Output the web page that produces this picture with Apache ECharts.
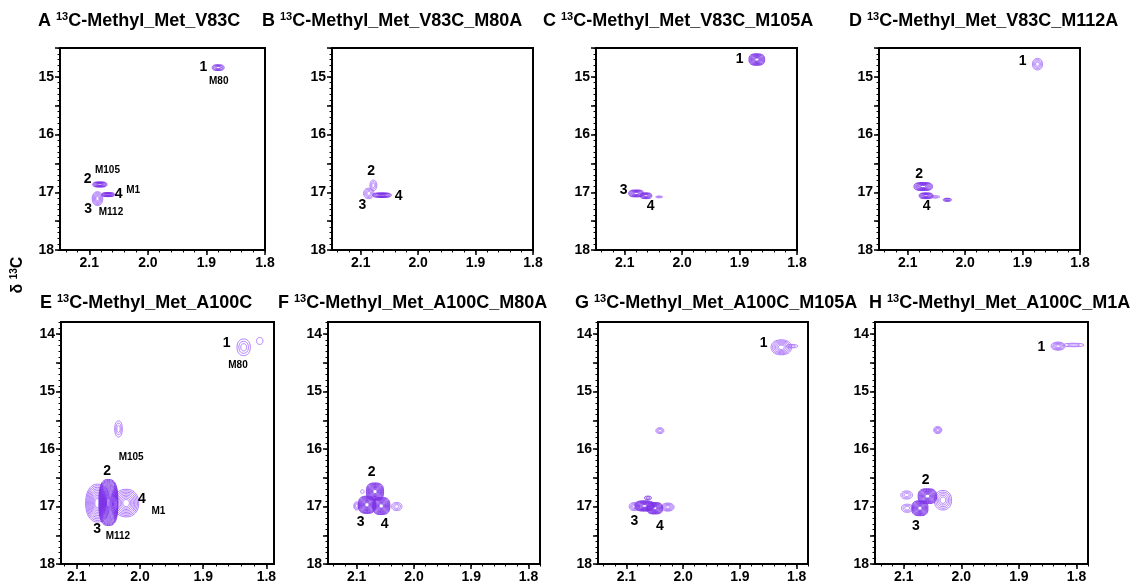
<!DOCTYPE html>
<html>
<head>
<meta charset="utf-8">
<script src="https://cdn.jsdelivr.net/npm/echarts@6/dist/echarts.min.js"></script>
<style>
html, body { margin: 0; padding: 0; background: #fff; }
#main { width: 1130px; height: 584px; }
</style>
</head>
<body>
<div id="main"></div>
<script>
// panel titles
var panelLetters = ['A', 'B', 'C', 'D', 'E', 'F', 'G', 'H'];
var panelNames = [
    'C-Methyl_Met_V83C', 'C-Methyl_Met_V83C_M80A', 'C-Methyl_Met_V83C_M105A', 'C-Methyl_Met_V83C_M112A',
    'C-Methyl_Met_A100C', 'C-Methyl_Met_A100C_M80A', 'C-Methyl_Met_A100C_M105A', 'C-Methyl_Met_A100C_M1A'
];

// tick labels
var xTicks = [2.1, 2.0, 1.9, 1.8];
var yTicksTop = [15, 16, 17, 18];
var yTicksBottom = [14, 15, 16, 17, 18];

// peaks: [1H ppm, 13C ppm, half width 1H, half width 13C, contour levels, light(1)/dark(0)]
var peaksA = [
    [1.880, 14.84, 0.010, 0.05, 4, 0],
    [2.086, 17.11, 0.009, 0.12, 6, 1],
    [2.082, 16.865, 0.012, 0.045, 6, 0],
    [2.068, 17.04, 0.011, 0.035, 6, 0]
];
var peaksB = [
    [2.078, 16.88, 0.006, 0.09, 3, 1],
    [2.086, 17.02, 0.009, 0.09, 4, 1],
    [2.063, 17.05, 0.016, 0.04, 6, 0]
];
var peaksC = [
    [1.870, 14.70, 0.0136, 0.10, 8, 0],
    [2.040, 17.08, 0.006, 0.015, 2, 1],
    [2.080, 17.02, 0.013, 0.06, 6, 0],
    [2.063, 17.06, 0.010, 0.05, 5, 0]
];
var peaksD = [
    [1.874, 14.78, 0.0087, 0.10, 4, 1],
    [2.052, 17.08, 0.008, 0.02, 2, 1],
    [2.073, 16.90, 0.016, 0.07, 7, 0],
    [2.068, 17.06, 0.012, 0.05, 6, 0],
    [2.031, 17.13, 0.007, 0.026, 3, 0]
];
var peaksE = [
    [1.836, 14.23, 0.0105, 0.145, 3, 1],
    [1.8106, 14.12, 0.005, 0.06, 1, 1],
    [2.034, 15.65, 0.006, 0.14, 3, 1],
    [2.067, 16.94, 0.019, 0.33, 10, 1],
    [2.022, 16.94, 0.020, 0.24, 8, 1],
    [2.050, 16.93, 0.015, 0.40, 18, 0],
    [2.043, 16.96, 0.006, 0.12, 4, 1]
];
var peaksF = [
    [2.100, 16.99, 0.005, 0.07, 3, 1],
    [2.030, 17.00, 0.009, 0.07, 3, 1],
    [2.090, 16.74, 0.003, 0.03, 1, 1],
    [2.068, 16.74, 0.015, 0.15, 10, 0],
    [2.082, 16.97, 0.015, 0.15, 10, 0],
    [2.057, 16.99, 0.015, 0.15, 10, 0]
];
var peaksG = [
    [1.827, 14.23, 0.018, 0.13, 6, 1],
    [1.808, 14.21, 0.010, 0.03, 2, 1],
    [2.041, 15.68, 0.007, 0.05, 3, 1],
    [2.086, 17.00, 0.009, 0.07, 4, 1],
    [2.027, 17.01, 0.011, 0.07, 5, 1],
    [2.068, 16.99, 0.017, 0.09, 9, 0],
    [2.050, 17.03, 0.014, 0.10, 9, 0],
    [2.062, 16.85, 0.006, 0.03, 2, 0]
];
var peaksH = [
    [1.832, 14.21, 0.012, 0.07, 5, 1],
    [1.805, 14.19, 0.018, 0.03, 2, 1],
    [2.041, 15.67, 0.007, 0.06, 4, 1],
    [2.095, 16.80, 0.010, 0.07, 3, 1],
    [2.094, 17.03, 0.010, 0.07, 3, 1],
    [2.032, 16.89, 0.015, 0.17, 5, 1],
    [2.059, 16.82, 0.016, 0.13, 9, 0],
    [2.072, 17.03, 0.014, 0.13, 9, 0]
];

// peak labels: [1H ppm, 13C ppm, text, small(1)/big(0)]
var labelsA = [[1.905, 14.84, '1', 0], [1.879, 15.07, 'M80', 1], [2.103, 16.78, '2', 0], [2.069, 16.61, 'M105', 1],
    [2.050, 17.04, '4', 0], [2.025, 16.97, 'M1', 1], [2.102, 17.29, '3', 0], [2.063, 17.35, 'M112', 1]];
var labelsB = [[2.082, 16.64, '2', 0], [2.097, 17.23, '3', 0], [2.034, 17.07, '4', 0]];
var labelsC = [[1.900, 14.70, '1', 0], [2.102, 16.97, '3', 0], [2.055, 17.24, '4', 0]];
var labelsD = [[1.900, 14.72, '1', 0], [2.080, 16.68, '2', 0], [2.067, 17.24, '4', 0]];
var labelsE = [[1.863, 14.15, '1', 0], [1.845, 14.54, 'M80', 1], [2.014, 16.15, 'M105', 1], [2.052, 16.38, '2', 0],
    [1.997, 16.88, '4', 0], [1.971, 17.09, 'M1', 1], [2.068, 17.39, '3', 0], [2.035, 17.52, 'M112', 1]];
var labelsF = [[2.074, 16.41, '2', 0], [2.093, 17.28, '3', 0], [2.051, 17.31, '4', 0]];
var labelsG = [[1.858, 14.15, '1', 0], [2.086, 17.25, '3', 0], [2.041, 17.34, '4', 0]];
var labelsH = [[1.861, 14.22, '1', 0], [2.062, 16.54, '2', 0], [2.079, 17.35, '3', 0]];

// axis ranges [min, max]
var xRanges = [[1.8, 2.15], [1.8, 2.15], [1.8, 2.15], [1.8, 2.15], [1.788, 2.125], [1.78, 2.15], [1.78, 2.15], [1.78, 2.15]];
var yRanges = [[14.5, 18], [14.5, 18], [14.5, 18], [14.5, 18], [13.79, 18], [13.79, 18], [13.79, 18], [13.79, 18]];

var allPeaks = [peaksA, peaksB, peaksC, peaksD, peaksE, peaksF, peaksG, peaksH];
var allLabels = [labelsA, labelsB, labelsC, labelsD, labelsE, labelsF, labelsG, labelsH];

// layout of the boxes: left, top, width, height
var boxes = [
    [60, 48, 205, 202], [332, 48, 201, 202], [596, 48, 201, 202], [879, 48, 201, 202],
    [61, 322, 213, 243], [328, 322, 212, 243], [598, 322, 210, 243], [875, 322, 213, 243]
];
var titlePos = [[38, 11], [262, 11], [543, 11], [849, 11], [40, 293], [278, 293], [575, 293], [869, 293]];

var FONT = '"Liberation Sans", Arial, sans-serif';

function steps(a, b, s) {
    var out = [];
    var k0 = Math.ceil(a / s - 1e-6), k1 = Math.floor(b / s + 1e-6);
    for (var k = k0; k <= k1; k++) out.push(+(k * s).toFixed(3));
    return out;
}

// contour rings of one peak, slightly squared like real nmr contours
function contourItem(params, api) {
    var c = api.coord([api.value(0), api.value(1)]);
    var s = api.size([api.value(2), api.value(3)]);
    var n = api.value(4);
    var light = api.value(5);
    var p = light ? 2.2 : 2.8;
    var children = [];
    for (var k = n; k >= 1; k--) {
        var f = 0.15 + 0.85 * k / n;
        var rx = Math.abs(s[0]) * f, ry = Math.abs(s[1]) * f;
        var pts = [];
        for (var t = 0; t < 48; t++) {
            var a = t / 48 * 2 * Math.PI;
            var ca = Math.cos(a), sa = Math.sin(a);
            pts.push([
                c[0] + rx * Math.sign(ca) * Math.pow(Math.abs(ca), 2 / p),
                c[1] + ry * Math.sign(sa) * Math.pow(Math.abs(sa), 2 / p)
            ]);
        }
        children.push({
            type: 'polygon',
            shape: { points: pts },
            style: { fill: 'none', stroke: light ? '#a56bfa' : '#7b2fe6', lineWidth: 0.9 }
        });
    }
    return { type: 'group', children: children };
}

function labelItem(params, api) {
    var c = api.coord([api.value(0), api.value(1)]);
    var small = api.value(3);
    return {
        type: 'text',
        x: c[0], y: c[1],
        style: {
            text: allLabels[params.seriesIndex / 2 | 0][params.dataIndex][2],
            font: 'bold ' + (small ? 10 : 14) + 'px ' + FONT,
            fill: '#000',
            align: 'center',
            verticalAlign: 'middle'
        }
    };
}

var option = {
    backgroundColor: '#fff',
    animation: false,
    title: [],
    grid: [],
    xAxis: [],
    yAxis: [],
    series: [],
    graphic: [{
        type: 'text',
        x: 18, y: 275,
        rotation: Math.PI / 2,
        style: {
            text: '{b|δ }{s|13}{b|C}',
            align: 'center',
            verticalAlign: 'middle',
            rich: {
                b: { font: 'bold 16px ' + FONT, fill: '#000', lineHeight: 20 },
                s: { font: 'bold 10px ' + FONT, fill: '#000', lineHeight: 20, verticalAlign: 'top', padding: [1, 0, 0, 0] }
            }
        }
    }]
};

for (var i = 0; i < 8; i++) {
    var b = boxes[i];
    var xr = xRanges[i], yr = yRanges[i];
    var yTicks = i < 4 ? yTicksTop : yTicksBottom;

    option.title.push({
        left: titlePos[i][0], top: titlePos[i][1], padding: 0,
        text: '{b|' + panelLetters[i] + ' }{s|13}{b|' + panelNames[i] + '}',
        textStyle: {
            rich: {
                b: { fontFamily: FONT, fontWeight: 'bold', fontSize: 18, color: '#000', lineHeight: 21 },
                s: { fontFamily: FONT, fontWeight: 'bold', fontSize: 11, color: '#000', lineHeight: 21, verticalAlign: 'top' }
            }
        }
    });

    option.grid.push({
        left: b[0], top: b[1], width: b[2], height: b[3],
        show: true, borderColor: '#000', borderWidth: 2, backgroundColor: 'transparent'
    });

    // major x axis
    option.xAxis.push({
        gridIndex: i, type: 'value', inverse: true, position: 'bottom',
        min: xr[0], max: xr[1],
        axisLine: { show: false }, splitLine: { show: false },
        axisTick: { show: true, length: 5, customValues: xTicks, lineStyle: { color: '#000', width: 1.5 } },
        axisLabel: {
            customValues: xTicks, margin: 6,
            formatter: function (v) { return v.toFixed(1); },
            color: '#000', fontFamily: FONT, fontWeight: 'bold', fontSize: 14
        }
    });
    // minor x ticks
    option.xAxis.push({
        gridIndex: i, type: 'value', inverse: true, position: 'bottom', offset: 0,
        min: xr[0], max: xr[1],
        axisLine: { show: false }, splitLine: { show: false },
        axisTick: { show: true, length: 2.5, customValues: steps(xr[0], xr[1], 0.02), lineStyle: { color: '#000', width: 1 } },
        axisLabel: { show: false }
    });
    // major y axis
    option.yAxis.push({
        gridIndex: i, type: 'value', inverse: true, position: 'left',
        min: yr[0], max: yr[1],
        axisLine: { show: false }, splitLine: { show: false },
        axisTick: { show: true, length: 5, customValues: steps(yr[0], yr[1], 0.5), lineStyle: { color: '#000', width: 1.5 } },
        axisLabel: {
            customValues: yTicks, margin: 6,
            color: '#000', fontFamily: FONT, fontWeight: 'bold', fontSize: 14
        }
    });
    // minor y ticks
    option.yAxis.push({
        gridIndex: i, type: 'value', inverse: true, position: 'left', offset: 0,
        min: yr[0], max: yr[1],
        axisLine: { show: false }, splitLine: { show: false },
        axisTick: { show: true, length: 2.5, customValues: steps(yr[0], yr[1], 0.1), lineStyle: { color: '#000', width: 1 } },
        axisLabel: { show: false }
    });

    option.series.push({
        type: 'custom',
        xAxisIndex: 2 * i, yAxisIndex: 2 * i,
        clip: true, silent: true,
        renderItem: contourItem,
        data: allPeaks[i]
    });
    option.series.push({
        type: 'custom',
        xAxisIndex: 2 * i, yAxisIndex: 2 * i,
        silent: true,
        renderItem: labelItem,
        data: allLabels[i].map(function (l) { return [l[0], l[1], 0, l[3]]; })
    });
}

var myChart = echarts.init(document.getElementById('main'));
myChart.setOption(option);
</script>
</body>
</html>
